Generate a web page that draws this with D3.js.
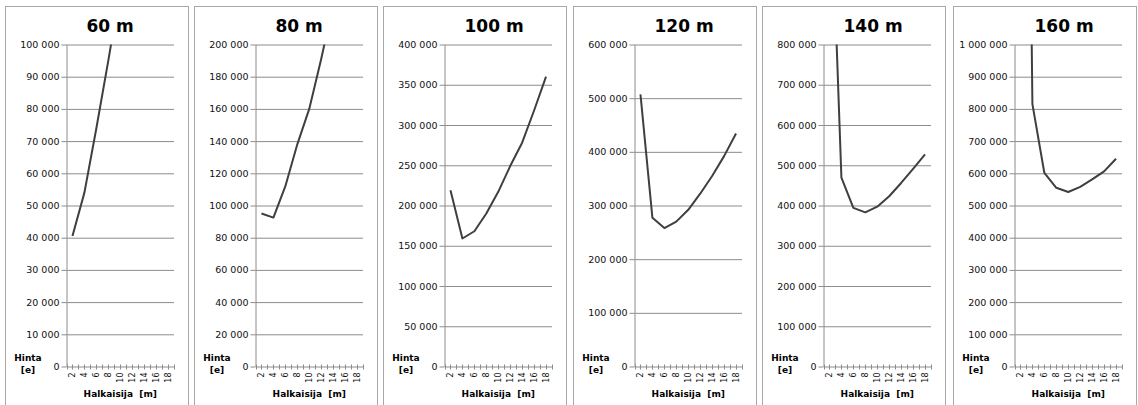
<!DOCTYPE html>
<html>
<head>
<meta charset="utf-8">
<script src="https://cdn.jsdelivr.net/npm/d3@7"></script>
<style>
  body { margin: 0; background: #fff; }
  svg { display: block; font-family: "DejaVu Sans", Verdana, sans-serif; }
</style>
</head>
<body>
<svg id="chart" width="1138" height="405"></svg>
<script>
// Tower height per panel, pipe diameter on the category axis, price on the value axis
const diameters = [2, 4, 6, 8, 10, 12, 14, 16, 18];
const titles = ["60 m", "80 m", "100 m", "120 m", "140 m", "160 m"];

const price60  = [40500, 54000, 74000, 95000, 117000];
const price80  = [95000, 92500, 112000, 138000, 160000, 191000, 225000];
const price100 = [219000, 159000, 168000, 190000, 217000, 249000, 278000, 318000, 360000];
const price120 = [507000, 277000, 258000, 270000, 292000, 322000, 355000, 392000, 434000];
const price140 = [1300000, 469000, 394000, 383000, 397000, 423000, 456000, 491000, 527000];
const price160 = [4000000, 815000, 601000, 555000, 542000, 558000, 581000, 606000, 645000];

const yMax  = [100000, 200000, 400000, 600000, 800000, 1000000];
const yStep = [10000, 20000, 50000, 100000, 100000, 100000];

const yTitle = ["Hinta", "[e]"];
const xTitle = "Halkaisija  [m]";

const series = [price60, price80, price100, price120, price140, price160];

// layout
const panelLeft = [5, 194, 383, 573, 762, 953];
const panelW = 183, panelTop = 6.5;
const plotTop = 44.5, plotBottom = 366.5, plotW = 107.5;

const svg = d3.select("#chart");
const fmt = v => d3.format(",")(v).replace(/,/g, " ");

titles.forEach((title, i) => {
  const left = panelLeft[i];
  const ax = left + 61.5;
  const g = svg.append("g");

  g.append("rect")
    .attr("x", left + 0.5).attr("y", panelTop)
    .attr("width", panelW).attr("height", 430)
    .attr("fill", "#fff").attr("stroke", "#a8a8a8");

  const x = d3.scaleBand().domain(diameters).range([ax, ax + plotW]);
  const bw = x.bandwidth();
  const y = d3.scaleLinear().domain([0, yMax[i]]).range([plotBottom, plotTop]);
  const ticks = d3.range(0, yMax[i] + 1, yStep[i]);

  // horizontal gridlines
  g.append("g")
    .attr("transform", `translate(${ax},0)`)
    .call(d3.axisLeft(y).tickValues(ticks.slice(1)).tickSize(-plotW).tickFormat(""))
    .call(s => s.select(".domain").remove())
    .call(s => s.selectAll("line").attr("stroke", "#8c8c8c"));

  // value axis with outward ticks and labels
  g.append("g")
    .attr("transform", `translate(${ax},0)`)
    .call(d3.axisLeft(y).tickValues(ticks).tickSize(5).tickPadding(2).tickSizeOuter(0).tickFormat(fmt))
    .call(s => s.select(".domain").attr("stroke", "#8c8c8c"))
    .call(s => s.selectAll("line").attr("stroke", "#8c8c8c"))
    .call(s => s.selectAll("text").attr("fill", "#111").style("font-size", "9.5px")
      .style("font-family", "DejaVu Sans, Verdana, sans-serif"));

  // category axis: labels rotated, tick marks at band edges and centres
  const xa = g.append("g")
    .attr("transform", `translate(0,${plotBottom})`)
    .call(d3.axisBottom(x).tickSize(0).tickSizeOuter(0));
  xa.select(".domain").attr("stroke", "#8c8c8c");
  xa.selectAll("text")
    .attr("transform", "rotate(-90)")
    .attr("x", -6).attr("y", 0).attr("dy", "0.33em")
    .style("text-anchor", "end")
    .style("font-size", "8px")
    .style("font-family", "DejaVu Sans, Verdana, sans-serif")
    .attr("fill", "#111");
  xa.selectAll(".minor")
    .data(d3.range(0, diameters.length * 2 + 1))
    .join("line")
    .attr("x1", k => Math.round(ax + k * bw / 2) + 0.5)
    .attr("x2", k => Math.round(ax + k * bw / 2) + 0.5)
    .attr("y1", -2).attr("y2", 3)
    .attr("stroke", "#8c8c8c");

  // price curve, clipped to the plot area
  const clipId = "clip" + i;
  g.append("clipPath").attr("id", clipId)
    .append("rect")
    .attr("x", ax).attr("y", plotTop)
    .attr("width", plotW).attr("height", plotBottom - plotTop);

  const line = d3.line()
    .x((d, j) => x(diameters[j]) + bw / 2)
    .y(d => y(d));

  g.append("path")
    .datum(series[i])
    .attr("clip-path", `url(#${clipId})`)
    .attr("d", line)
    .attr("fill", "none")
    .attr("stroke", "#3f3f3f")
    .attr("stroke-width", 2)
    .attr("stroke-linejoin", "round");

  // titles
  g.append("text")
    .attr("x", ax + 20).attr("y", 32)
    .style("font-weight", "bold").style("font-size", "17px")
    .attr("fill", "#000")
    .text(title);

  g.selectAll(".ytitle")
    .data(yTitle)
    .join("text")
    .attr("x", left + 23)
    .attr("y", (d, k) => 361 + k * 12)
    .attr("text-anchor", "middle")
    .style("font-weight", "bold").style("font-size", "9px")
    .attr("fill", "#000")
    .text(d => d);

  g.append("text")
    .attr("x", ax + plotW / 2).attr("y", 397)
    .attr("text-anchor", "middle")
    .style("font-weight", "bold").style("font-size", "9px")
    .style("white-space", "pre")
    .attr("fill", "#000")
    .text(xTitle);
});
</script>
</body>
</html>
